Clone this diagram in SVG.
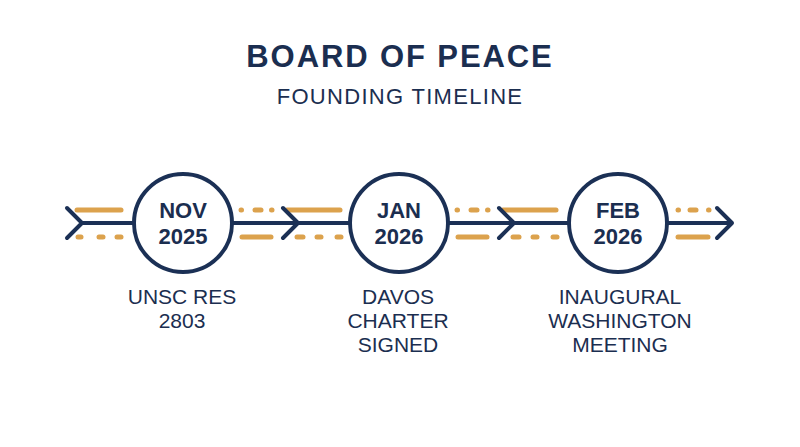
<svg xmlns="http://www.w3.org/2000/svg" width="800" height="447" viewBox="0 0 800 447">
  <style>
    .navy { stroke: #1B3055; stroke-width: 4; fill: none; stroke-linecap: round; stroke-linejoin: round; }
    .ring { stroke: #1B3055; stroke-width: 4; fill: #FFFFFF; }
    .gold { stroke: #DCA24D; stroke-width: 5; fill: none; stroke-linecap: round; }
    .title { font-family: "Liberation Sans", Arial, sans-serif; font-weight: bold; font-size: 31px; fill: #1B2E50; letter-spacing: 1.9px; }
    .sub { font-family: "Liberation Sans", Arial, sans-serif; font-size: 22px; fill: #1B2E50; letter-spacing: 1.3px; }
    .date { font-family: "Liberation Sans", Arial, sans-serif; font-weight: bold; font-size: 22px; fill: #1B2E50; }
    .label { font-family: "Liberation Sans", Arial, sans-serif; font-size: 21px; fill: #1B2E50; }
  </style>
  <rect width="800" height="447" fill="#FFFFFF"/>

  <g id="title">
    <text class="title" x="400" y="67" text-anchor="middle">BOARD OF PEACE</text>
    <text class="sub" x="400" y="104" text-anchor="middle">FOUNDING TIMELINE</text>
  </g>

  <g id="accents">
    <!-- left of node 1 -->
    <line class="gold" x1="77" y1="210" x2="121" y2="210"/>
    <line class="gold" x1="78" y1="237" x2="81" y2="237"/>
    <line class="gold" x1="99" y1="237" x2="103" y2="237"/>
    <line class="gold" x1="117" y1="237" x2="121" y2="237"/>
    <!-- gap 1 -->
    <line class="gold" x1="241" y1="210" x2="241.5" y2="210"/>
    <line class="gold" x1="255" y1="210" x2="261" y2="210"/>
    <line class="gold" x1="271.5" y1="210" x2="272" y2="210"/>
    <line class="gold" x1="287" y1="210" x2="340" y2="210"/>
    <line class="gold" x1="242" y1="237" x2="271" y2="237"/>
    <line class="gold" x1="297" y1="237" x2="303" y2="237"/>
    <line class="gold" x1="317" y1="237" x2="321" y2="237"/>
    <line class="gold" x1="337" y1="237" x2="341" y2="237"/>
    <!-- gap 2 -->
    <line class="gold" x1="457" y1="210" x2="457.5" y2="210"/>
    <line class="gold" x1="471" y1="210" x2="477" y2="210"/>
    <line class="gold" x1="487.5" y1="210" x2="488" y2="210"/>
    <line class="gold" x1="503" y1="210" x2="556" y2="210"/>
    <line class="gold" x1="458" y1="237" x2="487" y2="237"/>
    <line class="gold" x1="513" y1="237" x2="519" y2="237"/>
    <line class="gold" x1="533" y1="237" x2="537" y2="237"/>
    <line class="gold" x1="553" y1="237" x2="557" y2="237"/>
    <!-- right of node 3 -->
    <line class="gold" x1="678" y1="210" x2="678.5" y2="210"/>
    <line class="gold" x1="690" y1="210" x2="696" y2="210"/>
    <line class="gold" x1="708.5" y1="210" x2="709" y2="210"/>
    <line class="gold" x1="678" y1="237" x2="708" y2="237"/>
  </g>

  <g id="connectors">
    <path class="navy" d="M67 208 L82 223 L67 238 M82 223 L134 223"/>
    <path class="navy" d="M232 223 L350 223 M283 208 L298 223 L283 238"/>
    <path class="navy" d="M448 223 L569 223 M499 208 L514 223 L499 238"/>
    <path class="navy" d="M667 223 L732 223 M717 208 L732 223 L717 238"/>
  </g>

  <g id="node-nov-2025">
    <circle class="ring" cx="183" cy="223" r="49"/>
    <text class="date" x="183" y="218" text-anchor="middle">NOV</text>
    <text class="date" x="183" y="244" text-anchor="middle">2025</text>
    <text class="label" x="182" y="304" text-anchor="middle">UNSC RES</text>
    <text class="label" x="182" y="328" text-anchor="middle">2803</text>
  </g>

  <g id="node-jan-2026">
    <circle class="ring" cx="399" cy="223" r="49"/>
    <text class="date" x="399" y="218" text-anchor="middle">JAN</text>
    <text class="date" x="399" y="244" text-anchor="middle">2026</text>
    <text class="label" x="398" y="304" text-anchor="middle">DAVOS</text>
    <text class="label" x="398" y="328" text-anchor="middle">CHARTER</text>
    <text class="label" x="398" y="352" text-anchor="middle">SIGNED</text>
  </g>

  <g id="node-feb-2026">
    <circle class="ring" cx="618" cy="223" r="49"/>
    <text class="date" x="618" y="218" text-anchor="middle">FEB</text>
    <text class="date" x="618" y="244" text-anchor="middle">2026</text>
    <text class="label" x="620" y="304" text-anchor="middle">INAUGURAL</text>
    <text class="label" x="620" y="328" text-anchor="middle">WASHINGTON</text>
    <text class="label" x="620" y="352" text-anchor="middle">MEETING</text>
  </g>
</svg>
